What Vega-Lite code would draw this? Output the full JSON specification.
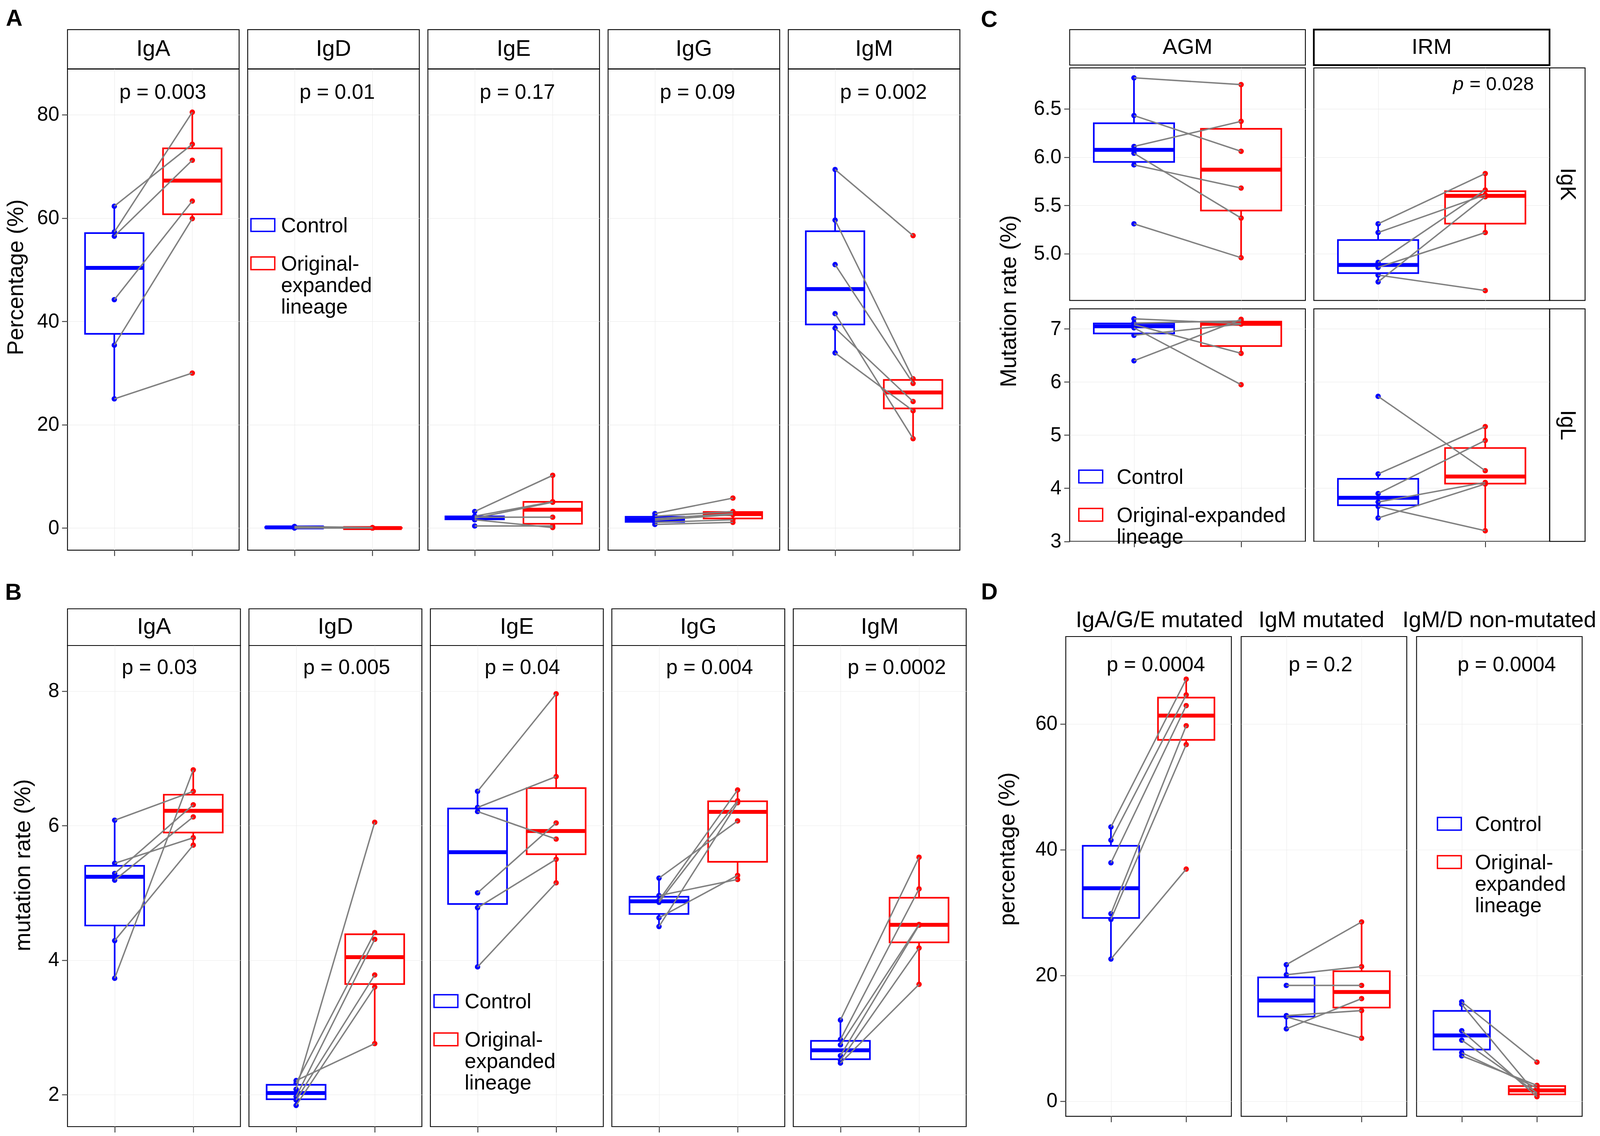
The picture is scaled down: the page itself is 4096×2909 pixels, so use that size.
{
"$schema":"https://vega.github.io/schema/vega-lite/v6.json",
"padding":{"left":10.8,"top":17.8,"right":8,"bottom":8},
"background":"white",
"datasets":{
"pts":[
{"p":"A_IgA","g":"C","id":1,"v":62.3},{"p":"A_IgA","g":"C","id":2,"v":57.3},{"p":"A_IgA","g":"C","id":3,"v":56.5},{"p":"A_IgA","g":"C","id":4,"v":44.2},{"p":"A_IgA","g":"C","id":5,"v":35.4},{"p":"A_IgA","g":"C","id":6,"v":25.0},
{"p":"A_IgA","g":"E","id":1,"v":74.3},{"p":"A_IgA","g":"E","id":2,"v":80.5},{"p":"A_IgA","g":"E","id":3,"v":71.2},{"p":"A_IgA","g":"E","id":4,"v":63.3},{"p":"A_IgA","g":"E","id":5,"v":59.9},{"p":"A_IgA","g":"E","id":6,"v":30.0},
{"p":"A_IgD","g":"C","id":1,"v":0.3},{"p":"A_IgD","g":"C","id":2,"v":0.2},{"p":"A_IgD","g":"C","id":3,"v":0.15},{"p":"A_IgD","g":"C","id":4,"v":0.1},{"p":"A_IgD","g":"C","id":5,"v":0.05},{"p":"A_IgD","g":"C","id":6,"v":0},
{"p":"A_IgD","g":"E","id":1,"v":0.1},{"p":"A_IgD","g":"E","id":2,"v":0.05},{"p":"A_IgD","g":"E","id":3,"v":0},{"p":"A_IgD","g":"E","id":4,"v":0},{"p":"A_IgD","g":"E","id":5,"v":0},{"p":"A_IgD","g":"E","id":6,"v":0},
{"p":"A_IgE","g":"C","id":1,"v":3.2},{"p":"A_IgE","g":"C","id":2,"v":2.3},{"p":"A_IgE","g":"C","id":3,"v":1.9},{"p":"A_IgE","g":"C","id":4,"v":2.1},{"p":"A_IgE","g":"C","id":5,"v":0.4},{"p":"A_IgE","g":"C","id":6,"v":1.6},
{"p":"A_IgE","g":"E","id":1,"v":10.2},{"p":"A_IgE","g":"E","id":2,"v":5.1},{"p":"A_IgE","g":"E","id":3,"v":5.0},{"p":"A_IgE","g":"E","id":4,"v":2.1},{"p":"A_IgE","g":"E","id":5,"v":0.4},{"p":"A_IgE","g":"E","id":6,"v":0.1},
{"p":"A_IgG","g":"C","id":1,"v":2.8},{"p":"A_IgG","g":"C","id":2,"v":2.3},{"p":"A_IgG","g":"C","id":3,"v":1.8},{"p":"A_IgG","g":"C","id":4,"v":1.5},{"p":"A_IgG","g":"C","id":5,"v":1.1},{"p":"A_IgG","g":"C","id":6,"v":0.7},
{"p":"A_IgG","g":"E","id":1,"v":5.8},{"p":"A_IgG","g":"E","id":2,"v":3.2},{"p":"A_IgG","g":"E","id":3,"v":2.8},{"p":"A_IgG","g":"E","id":4,"v":2.6},{"p":"A_IgG","g":"E","id":5,"v":1.6},{"p":"A_IgG","g":"E","id":6,"v":1.1},
{"p":"A_IgM","g":"C","id":1,"v":69.4},{"p":"A_IgM","g":"C","id":2,"v":59.6},{"p":"A_IgM","g":"C","id":3,"v":51.0},{"p":"A_IgM","g":"C","id":4,"v":41.5},{"p":"A_IgM","g":"C","id":5,"v":38.7},{"p":"A_IgM","g":"C","id":6,"v":33.9},
{"p":"A_IgM","g":"E","id":1,"v":56.6},{"p":"A_IgM","g":"E","id":2,"v":28.9},{"p":"A_IgM","g":"E","id":3,"v":28.0},{"p":"A_IgM","g":"E","id":4,"v":17.3},{"p":"A_IgM","g":"E","id":5,"v":24.5},{"p":"A_IgM","g":"E","id":6,"v":22.7},
{"p":"B_IgA","g":"C","id":1,"v":6.08},{"p":"B_IgA","g":"C","id":2,"v":5.44},{"p":"B_IgA","g":"C","id":3,"v":5.29},{"p":"B_IgA","g":"C","id":4,"v":5.19},{"p":"B_IgA","g":"C","id":5,"v":4.29},{"p":"B_IgA","g":"C","id":6,"v":3.73},
{"p":"B_IgA","g":"E","id":1,"v":6.51},{"p":"B_IgA","g":"E","id":2,"v":5.82},{"p":"B_IgA","g":"E","id":3,"v":6.31},{"p":"B_IgA","g":"E","id":4,"v":6.13},{"p":"B_IgA","g":"E","id":5,"v":5.71},{"p":"B_IgA","g":"E","id":6,"v":6.83},
{"p":"B_IgD","g":"C","id":1,"v":2.21},{"p":"B_IgD","g":"C","id":2,"v":2.17},{"p":"B_IgD","g":"C","id":3,"v":2.08},{"p":"B_IgD","g":"C","id":4,"v":1.97},{"p":"B_IgD","g":"C","id":5,"v":1.92},{"p":"B_IgD","g":"C","id":6,"v":1.84},
{"p":"B_IgD","g":"E","id":1,"v":2.76},{"p":"B_IgD","g":"E","id":2,"v":4.41},{"p":"B_IgD","g":"E","id":3,"v":6.05},{"p":"B_IgD","g":"E","id":4,"v":4.31},{"p":"B_IgD","g":"E","id":5,"v":3.78},{"p":"B_IgD","g":"E","id":6,"v":3.60},
{"p":"B_IgE","g":"C","id":1,"v":6.51},{"p":"B_IgE","g":"C","id":2,"v":6.27},{"p":"B_IgE","g":"C","id":3,"v":6.21},{"p":"B_IgE","g":"C","id":4,"v":5.00},{"p":"B_IgE","g":"C","id":5,"v":4.78},{"p":"B_IgE","g":"C","id":6,"v":3.90},
{"p":"B_IgE","g":"E","id":1,"v":7.96},{"p":"B_IgE","g":"E","id":2,"v":6.73},{"p":"B_IgE","g":"E","id":3,"v":5.80},{"p":"B_IgE","g":"E","id":4,"v":6.04},{"p":"B_IgE","g":"E","id":5,"v":5.50},{"p":"B_IgE","g":"E","id":6,"v":5.15},
{"p":"B_IgG","g":"C","id":1,"v":5.22},{"p":"B_IgG","g":"C","id":2,"v":4.96},{"p":"B_IgG","g":"C","id":3,"v":4.89},{"p":"B_IgG","g":"C","id":4,"v":4.86},{"p":"B_IgG","g":"C","id":5,"v":4.63},{"p":"B_IgG","g":"C","id":6,"v":4.50},
{"p":"B_IgG","g":"E","id":1,"v":6.07},{"p":"B_IgG","g":"E","id":2,"v":5.20},{"p":"B_IgG","g":"E","id":3,"v":6.53},{"p":"B_IgG","g":"E","id":4,"v":6.37},{"p":"B_IgG","g":"E","id":5,"v":5.26},{"p":"B_IgG","g":"E","id":6,"v":6.34},
{"p":"B_IgM","g":"C","id":1,"v":3.11},{"p":"B_IgM","g":"C","id":2,"v":2.82},{"p":"B_IgM","g":"C","id":3,"v":2.74},{"p":"B_IgM","g":"C","id":4,"v":2.58},{"p":"B_IgM","g":"C","id":5,"v":2.51},{"p":"B_IgM","g":"C","id":6,"v":2.47},
{"p":"B_IgM","g":"E","id":1,"v":5.53},{"p":"B_IgM","g":"E","id":2,"v":5.06},{"p":"B_IgM","g":"E","id":3,"v":4.53},{"p":"B_IgM","g":"E","id":4,"v":4.52},{"p":"B_IgM","g":"E","id":5,"v":4.18},{"p":"B_IgM","g":"E","id":6,"v":3.64},
{"p":"C_AK","g":"C","id":1,"v":6.82},{"p":"C_AK","g":"C","id":2,"v":6.43},{"p":"C_AK","g":"C","id":3,"v":6.11},{"p":"C_AK","g":"C","id":4,"v":6.04},{"p":"C_AK","g":"C","id":5,"v":5.92},{"p":"C_AK","g":"C","id":6,"v":5.31},
{"p":"C_AK","g":"E","id":1,"v":6.75},{"p":"C_AK","g":"E","id":2,"v":6.06},{"p":"C_AK","g":"E","id":3,"v":6.37},{"p":"C_AK","g":"E","id":4,"v":5.37},{"p":"C_AK","g":"E","id":5,"v":5.68},{"p":"C_AK","g":"E","id":6,"v":4.96},
{"p":"C_IK","g":"C","id":1,"v":5.31},{"p":"C_IK","g":"C","id":2,"v":5.22},{"p":"C_IK","g":"C","id":3,"v":4.91},{"p":"C_IK","g":"C","id":4,"v":4.86},{"p":"C_IK","g":"C","id":5,"v":4.71},{"p":"C_IK","g":"C","id":6,"v":4.78},
{"p":"C_IK","g":"E","id":1,"v":5.83},{"p":"C_IK","g":"E","id":2,"v":5.61},{"p":"C_IK","g":"E","id":3,"v":5.66},{"p":"C_IK","g":"E","id":4,"v":5.22},{"p":"C_IK","g":"E","id":5,"v":5.59},{"p":"C_IK","g":"E","id":6,"v":4.62},
{"p":"C_AL","g":"C","id":1,"v":7.19},{"p":"C_AL","g":"C","id":2,"v":7.11},{"p":"C_AL","g":"C","id":3,"v":7.08},{"p":"C_AL","g":"C","id":4,"v":7.02},{"p":"C_AL","g":"C","id":5,"v":6.88},{"p":"C_AL","g":"C","id":6,"v":6.40},
{"p":"C_AL","g":"E","id":1,"v":7.10},{"p":"C_AL","g":"E","id":2,"v":7.15},{"p":"C_AL","g":"E","id":3,"v":6.54},{"p":"C_AL","g":"E","id":4,"v":5.95},{"p":"C_AL","g":"E","id":5,"v":7.09},{"p":"C_AL","g":"E","id":6,"v":7.18},
{"p":"C_IL","g":"C","id":1,"v":5.73},{"p":"C_IL","g":"C","id":2,"v":4.27},{"p":"C_IL","g":"C","id":3,"v":3.90},{"p":"C_IL","g":"C","id":4,"v":3.74},{"p":"C_IL","g":"C","id":5,"v":3.66},{"p":"C_IL","g":"C","id":6,"v":3.44},
{"p":"C_IL","g":"E","id":1,"v":4.33},{"p":"C_IL","g":"E","id":2,"v":5.16},{"p":"C_IL","g":"E","id":3,"v":4.90},{"p":"C_IL","g":"E","id":4,"v":4.11},{"p":"C_IL","g":"E","id":5,"v":3.20},{"p":"C_IL","g":"E","id":6,"v":4.08},
{"p":"D_1","g":"C","id":1,"v":43.6},{"p":"D_1","g":"C","id":2,"v":41.5},{"p":"D_1","g":"C","id":3,"v":37.9},{"p":"D_1","g":"C","id":4,"v":29.8},{"p":"D_1","g":"C","id":5,"v":28.9},{"p":"D_1","g":"C","id":6,"v":22.6},
{"p":"D_1","g":"E","id":1,"v":67.1},{"p":"D_1","g":"E","id":2,"v":64.6},{"p":"D_1","g":"E","id":3,"v":62.9},{"p":"D_1","g":"E","id":4,"v":59.7},{"p":"D_1","g":"E","id":5,"v":56.7},{"p":"D_1","g":"E","id":6,"v":36.9},
{"p":"D_2","g":"C","id":1,"v":21.7},{"p":"D_2","g":"C","id":2,"v":20.1},{"p":"D_2","g":"C","id":3,"v":18.4},{"p":"D_2","g":"C","id":4,"v":13.6},{"p":"D_2","g":"C","id":5,"v":11.5},{"p":"D_2","g":"C","id":6,"v":13.4},
{"p":"D_2","g":"E","id":1,"v":28.5},{"p":"D_2","g":"E","id":2,"v":21.4},{"p":"D_2","g":"E","id":3,"v":18.4},{"p":"D_2","g":"E","id":4,"v":14.4},{"p":"D_2","g":"E","id":5,"v":16.3},{"p":"D_2","g":"E","id":6,"v":10.0},
{"p":"D_3","g":"C","id":1,"v":15.8},{"p":"D_3","g":"C","id":2,"v":15.4},{"p":"D_3","g":"C","id":3,"v":11.2},{"p":"D_3","g":"C","id":4,"v":9.7},{"p":"D_3","g":"C","id":5,"v":7.7},{"p":"D_3","g":"C","id":6,"v":7.2},
{"p":"D_3","g":"E","id":1,"v":6.2},{"p":"D_3","g":"E","id":2,"v":1.0},{"p":"D_3","g":"E","id":3,"v":0.7},{"p":"D_3","g":"E","id":4,"v":1.3},{"p":"D_3","g":"E","id":5,"v":2.1},{"p":"D_3","g":"E","id":6,"v":2.5}
],
"box":[
{"p":"A_IgA","g":"C","lo":25.0,"q1":37.6,"md":50.35,"q3":57.1,"hi":62.3},{"p":"A_IgA","g":"E","lo":59.9,"q1":60.75,"md":67.25,"q3":73.5,"hi":80.5},
{"p":"A_IgD","g":"C","lo":0,"q1":0.0625,"md":0.125,"q3":0.1875,"hi":0.3},{"p":"A_IgD","g":"E","lo":0,"q1":0,"md":0,"q3":0.0375,"hi":0.1},
{"p":"A_IgE","g":"C","lo":1.6,"q1":1.675,"md":2.0,"q3":2.25,"hi":2.3},{"p":"A_IgE","g":"E","lo":0.1,"q1":0.825,"md":3.55,"q3":5.075,"hi":10.2},
{"p":"A_IgG","g":"C","lo":0.7,"q1":1.2,"md":1.65,"q3":2.175,"hi":2.8},{"p":"A_IgG","g":"E","lo":1.1,"q1":1.85,"md":2.7,"q3":3.1,"hi":3.2},
{"p":"A_IgM","g":"C","lo":33.9,"q1":39.4,"md":46.25,"q3":57.45,"hi":69.4},{"p":"A_IgM","g":"E","lo":17.3,"q1":23.15,"md":26.25,"q3":28.68,"hi":28.9},
{"p":"B_IgA","g":"C","lo":3.73,"q1":4.515,"md":5.24,"q3":5.4025,"hi":6.08},{"p":"B_IgA","g":"E","lo":5.71,"q1":5.8975,"md":6.22,"q3":6.46,"hi":6.83},
{"p":"B_IgD","g":"C","lo":1.84,"q1":1.9325,"md":2.025,"q3":2.1475,"hi":2.21},{"p":"B_IgD","g":"E","lo":2.76,"q1":3.645,"md":4.045,"q3":4.385,"hi":4.41},
{"p":"B_IgE","g":"C","lo":3.90,"q1":4.835,"md":5.605,"q3":6.255,"hi":6.51},{"p":"B_IgE","g":"E","lo":5.15,"q1":5.575,"md":5.92,"q3":6.5575,"hi":7.96},
{"p":"B_IgG","g":"C","lo":4.50,"q1":4.6875,"md":4.875,"q3":4.9425,"hi":5.22},{"p":"B_IgG","g":"E","lo":5.20,"q1":5.4625,"md":6.205,"q3":6.3625,"hi":6.53},
{"p":"B_IgM","g":"C","lo":2.47,"q1":2.5275,"md":2.66,"q3":2.80,"hi":3.11},{"p":"B_IgM","g":"E","lo":3.64,"q1":4.265,"md":4.525,"q3":4.9275,"hi":5.53},
{"p":"C_AK","g":"C","lo":5.92,"q1":5.95,"md":6.075,"q3":6.35,"hi":6.82},{"p":"C_AK","g":"E","lo":4.96,"q1":5.4475,"md":5.87,"q3":6.2925,"hi":6.75},
{"p":"C_IK","g":"C","lo":4.71,"q1":4.80,"md":4.885,"q3":5.1425,"hi":5.31},{"p":"C_IK","g":"E","lo":5.22,"q1":5.3125,"md":5.60,"q3":5.6475,"hi":5.83},
{"p":"C_AL","g":"C","lo":6.88,"q1":6.915,"md":7.05,"q3":7.1025,"hi":7.19},{"p":"C_AL","g":"E","lo":6.54,"q1":6.6775,"md":7.095,"q3":7.1375,"hi":7.18},
{"p":"C_IL","g":"C","lo":3.44,"q1":3.68,"md":3.82,"q3":4.1775,"hi":4.27},{"p":"C_IL","g":"E","lo":3.20,"q1":4.0875,"md":4.22,"q3":4.7575,"hi":5.16},
{"p":"D_1","g":"C","lo":22.6,"q1":29.125,"md":33.85,"q3":40.6,"hi":43.6},{"p":"D_1","g":"E","lo":56.7,"q1":57.45,"md":61.3,"q3":64.175,"hi":67.1},
{"p":"D_2","g":"C","lo":11.5,"q1":13.45,"md":16.0,"q3":19.675,"hi":21.7},{"p":"D_2","g":"E","lo":10.0,"q1":14.875,"md":17.35,"q3":20.65,"hi":28.5},
{"p":"D_3","g":"C","lo":7.2,"q1":8.2,"md":10.45,"q3":14.35,"hi":15.8},{"p":"D_3","g":"E","lo":0.7,"q1":1.075,"md":1.7,"q3":2.4,"hi":2.5}
],
"lab":[
{"p":"A_IgA","k":"n","t":"p = 0.003"},{"p":"A_IgD","k":"n","t":"p = 0.01"},{"p":"A_IgE","k":"n","t":"p = 0.17"},{"p":"A_IgG","k":"n","t":"p = 0.09"},{"p":"A_IgM","k":"n","t":"p = 0.002"},
{"p":"B_IgA","k":"n","t":"p = 0.03"},{"p":"B_IgD","k":"n","t":"p = 0.005"},{"p":"B_IgE","k":"n","t":"p = 0.04"},{"p":"B_IgG","k":"n","t":"p = 0.004"},{"p":"B_IgM","k":"n","t":"p = 0.0002"},
{"p":"C_IK","k":"i","t":"p"},{"p":"C_IK","k":"n","t":"= 0.028"},
{"p":"D_1","k":"n","t":"p = 0.0004"},{"p":"D_2","k":"n","t":"p = 0.2"},{"p":"D_3","k":"n","t":"p = 0.0004"}
]
},
"spacing":61.2,"resolve":{"legend":{"stroke":"independent"}},
"vconcat":[
{"spacing":50.6,"resolve":{"legend":{"stroke":"independent"}},"hconcat":[
{"columns":5,"spacing":{"row":0,"column":21.3},"bounds":"flush","align":"each","resolve":{"legend":{"stroke":"independent"}},"concat":[
{"width":439.3,"height":100.6,"title":{"text":"A","dx":-157.8,"offset":-2.5},"view":{"stroke":"black","strokeWidth":2.2},"data":{"values":[{"t":"IgA"}]},"mark":{"type":"text","fontSize":58,"baseline":"middle"},"encoding":{"text":{"field":"t","type":"nominal"}}},
{"width":439.3,"height":100.6,"view":{"stroke":"black","strokeWidth":2.2},"data":{"values":[{"t":"IgD"}]},"mark":{"type":"text","fontSize":58,"baseline":"middle"},"encoding":{"text":{"field":"t","type":"nominal"}}},
{"width":439.3,"height":100.6,"view":{"stroke":"black","strokeWidth":2.2},"data":{"values":[{"t":"IgE"}]},"mark":{"type":"text","fontSize":58,"baseline":"middle"},"encoding":{"text":{"field":"t","type":"nominal"}}},
{"width":439.3,"height":100.6,"view":{"stroke":"black","strokeWidth":2.2},"data":{"values":[{"t":"IgG"}]},"mark":{"type":"text","fontSize":58,"baseline":"middle"},"encoding":{"text":{"field":"t","type":"nominal"}}},
{"width":439.3,"height":100.6,"view":{"stroke":"black","strokeWidth":2.2},"data":{"values":[{"t":"IgM"}]},"mark":{"type":"text","fontSize":58,"baseline":"middle"},"encoding":{"text":{"field":"t","type":"nominal"}}},
{"width":439.3,"height":1232,"layer":[
{"data":{"name":"box"},"transform":[{"filter":"datum.p=='A_IgA'"}],"layer":[
{"mark":{"type":"rule","strokeWidth":4.2},"encoding":{"x":{"field":"g","type":"nominal","scale":{"type":"point","padding":0.6,"domain":["C","E"]},"axis":{"labels":false,"title":null,"ticks":true,"grid":true}},"y":{"field":"lo","type":"quantitative","scale":{"domain":[-4.28,88.85],"nice":false,"zero":false},"axis":{"values":[0,20,40,60,80],"format":"d","title":"Percentage (%)","titleX":-102.4,"titleY":532.8}},"y2":{"field":"q1"},"color":{"field":"g","type":"nominal","scale":{"domain":["C","E"],"range":["#0000ff","#ff0000"]},"legend":null}}},
{"mark":{"type":"rule","strokeWidth":4.2},"encoding":{"x":{"field":"g","type":"nominal"},"y":{"field":"q3","type":"quantitative"},"y2":{"field":"hi"},"color":{"field":"g","type":"nominal","legend":null}}},
{"mark":{"type":"bar","width":149.8,"fill":"white","strokeWidth":4.2},"encoding":{"x":{"field":"g","type":"nominal"},"y":{"field":"q1","type":"quantitative"},"y2":{"field":"q3"},"stroke":{"field":"g","type":"nominal","scale":{"domain":["C","E"],"range":["#0000ff","#ff0000"]},"legend":null}}},
{"mark":{"type":"tick","size":149.8,"thickness":10,"opacity":1},"encoding":{"x":{"field":"g","type":"nominal"},"y":{"field":"md","type":"quantitative"},"color":{"field":"g","type":"nominal","legend":null}}}]},
{"data":{"name":"pts"},"transform":[{"filter":"datum.p=='A_IgA'"}],"layer":[
{"mark":{"type":"circle","size":190,"opacity":1},"encoding":{"x":{"field":"g","type":"nominal"},"y":{"field":"v","type":"quantitative"},"color":{"field":"g","type":"nominal","legend":null}}},
{"mark":{"type":"line","color":"#808080","strokeWidth":3.6},"encoding":{"x":{"field":"g","type":"nominal"},"y":{"field":"v","type":"quantitative"},"detail":{"field":"id","type":"nominal"}}}]},
{"data":{"name":"lab"},"transform":[{"filter":"datum.p=='A_IgA'"}],"mark":{"type":"text","align":"left","baseline":"alphabetic","fontSize":53,"dx":12.8},"encoding":{"x":{"datum":"C","type":"nominal"},"y":{"datum":83.1,"type":"quantitative"},"text":{"field":"t","type":"nominal"}}}
]},
{"width":439.3,"height":1232,"layer":[
{"data":{"name":"box"},"transform":[{"filter":"datum.p=='A_IgD'"}],"layer":[
{"mark":{"type":"rule","strokeWidth":4.2},"encoding":{"x":{"field":"g","type":"nominal","scale":{"type":"point","padding":0.6,"domain":["C","E"]},"axis":{"labels":false,"title":null,"ticks":true,"grid":true}},"y":{"field":"lo","type":"quantitative","scale":{"domain":[-4.28,88.85],"nice":false,"zero":false},"axis":{"values":[0,20,40,60,80],"labels":false,"ticks":false,"title":null}},"y2":{"field":"q1"},"color":{"field":"g","type":"nominal","scale":{"domain":["C","E"],"range":["#0000ff","#ff0000"]},"legend":null}}},
{"mark":{"type":"rule","strokeWidth":4.2},"encoding":{"x":{"field":"g","type":"nominal"},"y":{"field":"q3","type":"quantitative"},"y2":{"field":"hi"},"color":{"field":"g","type":"nominal","legend":null}}},
{"mark":{"type":"bar","width":149.8,"fill":"white","strokeWidth":4.2},"encoding":{"x":{"field":"g","type":"nominal"},"y":{"field":"q1","type":"quantitative"},"y2":{"field":"q3"},"stroke":{"field":"g","type":"nominal","scale":{"domain":["C","E"],"range":["#0000ff","#ff0000"]},"legend":{"title":null,"orient":"none","legendX":6.3,"legendY":386,"labelOffset":14,"labelExpr":"datum.label=='C'?'Control':['Original-','expanded','lineage']"}}}},
{"mark":{"type":"tick","size":149.8,"thickness":10,"opacity":1},"encoding":{"x":{"field":"g","type":"nominal"},"y":{"field":"md","type":"quantitative"},"color":{"field":"g","type":"nominal","legend":null}}}]},
{"data":{"name":"pts"},"transform":[{"filter":"datum.p=='A_IgD'"}],"layer":[
{"mark":{"type":"circle","size":190,"opacity":1},"encoding":{"x":{"field":"g","type":"nominal"},"y":{"field":"v","type":"quantitative"},"color":{"field":"g","type":"nominal","legend":null}}},
{"mark":{"type":"line","color":"#808080","strokeWidth":3.6},"encoding":{"x":{"field":"g","type":"nominal"},"y":{"field":"v","type":"quantitative"},"detail":{"field":"id","type":"nominal"}}}]},
{"data":{"name":"lab"},"transform":[{"filter":"datum.p=='A_IgD'"}],"mark":{"type":"text","align":"left","baseline":"alphabetic","fontSize":53,"dx":12.8},"encoding":{"x":{"datum":"C","type":"nominal"},"y":{"datum":83.1,"type":"quantitative"},"text":{"field":"t","type":"nominal"}}}
]},
{"width":439.3,"height":1232,"layer":[
{"data":{"name":"box"},"transform":[{"filter":"datum.p=='A_IgE'"}],"layer":[
{"mark":{"type":"rule","strokeWidth":4.2},"encoding":{"x":{"field":"g","type":"nominal","scale":{"type":"point","padding":0.6,"domain":["C","E"]},"axis":{"labels":false,"title":null,"ticks":true,"grid":true}},"y":{"field":"lo","type":"quantitative","scale":{"domain":[-4.28,88.85],"nice":false,"zero":false},"axis":{"values":[0,20,40,60,80],"labels":false,"ticks":false,"title":null}},"y2":{"field":"q1"},"color":{"field":"g","type":"nominal","scale":{"domain":["C","E"],"range":["#0000ff","#ff0000"]},"legend":null}}},
{"mark":{"type":"rule","strokeWidth":4.2},"encoding":{"x":{"field":"g","type":"nominal"},"y":{"field":"q3","type":"quantitative"},"y2":{"field":"hi"},"color":{"field":"g","type":"nominal","legend":null}}},
{"mark":{"type":"bar","width":149.8,"fill":"white","strokeWidth":4.2},"encoding":{"x":{"field":"g","type":"nominal"},"y":{"field":"q1","type":"quantitative"},"y2":{"field":"q3"},"stroke":{"field":"g","type":"nominal","scale":{"domain":["C","E"],"range":["#0000ff","#ff0000"]},"legend":null}}},
{"mark":{"type":"tick","size":149.8,"thickness":10,"opacity":1},"encoding":{"x":{"field":"g","type":"nominal"},"y":{"field":"md","type":"quantitative"},"color":{"field":"g","type":"nominal","legend":null}}}]},
{"data":{"name":"pts"},"transform":[{"filter":"datum.p=='A_IgE'"}],"layer":[
{"mark":{"type":"circle","size":190,"opacity":1},"encoding":{"x":{"field":"g","type":"nominal"},"y":{"field":"v","type":"quantitative"},"color":{"field":"g","type":"nominal","legend":null}}},
{"mark":{"type":"line","color":"#808080","strokeWidth":3.6},"encoding":{"x":{"field":"g","type":"nominal"},"y":{"field":"v","type":"quantitative"},"detail":{"field":"id","type":"nominal"}}}]},
{"data":{"name":"lab"},"transform":[{"filter":"datum.p=='A_IgE'"}],"mark":{"type":"text","align":"left","baseline":"alphabetic","fontSize":53,"dx":12.8},"encoding":{"x":{"datum":"C","type":"nominal"},"y":{"datum":83.1,"type":"quantitative"},"text":{"field":"t","type":"nominal"}}}
]},
{"width":439.3,"height":1232,"layer":[
{"data":{"name":"box"},"transform":[{"filter":"datum.p=='A_IgG'"}],"layer":[
{"mark":{"type":"rule","strokeWidth":4.2},"encoding":{"x":{"field":"g","type":"nominal","scale":{"type":"point","padding":0.6,"domain":["C","E"]},"axis":{"labels":false,"title":null,"ticks":true,"grid":true}},"y":{"field":"lo","type":"quantitative","scale":{"domain":[-4.28,88.85],"nice":false,"zero":false},"axis":{"values":[0,20,40,60,80],"labels":false,"ticks":false,"title":null}},"y2":{"field":"q1"},"color":{"field":"g","type":"nominal","scale":{"domain":["C","E"],"range":["#0000ff","#ff0000"]},"legend":null}}},
{"mark":{"type":"rule","strokeWidth":4.2},"encoding":{"x":{"field":"g","type":"nominal"},"y":{"field":"q3","type":"quantitative"},"y2":{"field":"hi"},"color":{"field":"g","type":"nominal","legend":null}}},
{"mark":{"type":"bar","width":149.8,"fill":"white","strokeWidth":4.2},"encoding":{"x":{"field":"g","type":"nominal"},"y":{"field":"q1","type":"quantitative"},"y2":{"field":"q3"},"stroke":{"field":"g","type":"nominal","scale":{"domain":["C","E"],"range":["#0000ff","#ff0000"]},"legend":null}}},
{"mark":{"type":"tick","size":149.8,"thickness":10,"opacity":1},"encoding":{"x":{"field":"g","type":"nominal"},"y":{"field":"md","type":"quantitative"},"color":{"field":"g","type":"nominal","legend":null}}}]},
{"data":{"name":"pts"},"transform":[{"filter":"datum.p=='A_IgG'"}],"layer":[
{"mark":{"type":"circle","size":190,"opacity":1},"encoding":{"x":{"field":"g","type":"nominal"},"y":{"field":"v","type":"quantitative"},"color":{"field":"g","type":"nominal","legend":null}}},
{"mark":{"type":"line","color":"#808080","strokeWidth":3.6},"encoding":{"x":{"field":"g","type":"nominal"},"y":{"field":"v","type":"quantitative"},"detail":{"field":"id","type":"nominal"}}}]},
{"data":{"name":"lab"},"transform":[{"filter":"datum.p=='A_IgG'"}],"mark":{"type":"text","align":"left","baseline":"alphabetic","fontSize":53,"dx":12.8},"encoding":{"x":{"datum":"C","type":"nominal"},"y":{"datum":83.1,"type":"quantitative"},"text":{"field":"t","type":"nominal"}}}
]},
{"width":439.3,"height":1232,"layer":[
{"data":{"name":"box"},"transform":[{"filter":"datum.p=='A_IgM'"}],"layer":[
{"mark":{"type":"rule","strokeWidth":4.2},"encoding":{"x":{"field":"g","type":"nominal","scale":{"type":"point","padding":0.6,"domain":["C","E"]},"axis":{"labels":false,"title":null,"ticks":true,"grid":true}},"y":{"field":"lo","type":"quantitative","scale":{"domain":[-4.28,88.85],"nice":false,"zero":false},"axis":{"values":[0,20,40,60,80],"labels":false,"ticks":false,"title":null}},"y2":{"field":"q1"},"color":{"field":"g","type":"nominal","scale":{"domain":["C","E"],"range":["#0000ff","#ff0000"]},"legend":null}}},
{"mark":{"type":"rule","strokeWidth":4.2},"encoding":{"x":{"field":"g","type":"nominal"},"y":{"field":"q3","type":"quantitative"},"y2":{"field":"hi"},"color":{"field":"g","type":"nominal","legend":null}}},
{"mark":{"type":"bar","width":149.8,"fill":"white","strokeWidth":4.2},"encoding":{"x":{"field":"g","type":"nominal"},"y":{"field":"q1","type":"quantitative"},"y2":{"field":"q3"},"stroke":{"field":"g","type":"nominal","scale":{"domain":["C","E"],"range":["#0000ff","#ff0000"]},"legend":null}}},
{"mark":{"type":"tick","size":149.8,"thickness":10,"opacity":1},"encoding":{"x":{"field":"g","type":"nominal"},"y":{"field":"md","type":"quantitative"},"color":{"field":"g","type":"nominal","legend":null}}}]},
{"data":{"name":"pts"},"transform":[{"filter":"datum.p=='A_IgM'"}],"layer":[
{"mark":{"type":"circle","size":190,"opacity":1},"encoding":{"x":{"field":"g","type":"nominal"},"y":{"field":"v","type":"quantitative"},"color":{"field":"g","type":"nominal","legend":null}}},
{"mark":{"type":"line","color":"#808080","strokeWidth":3.6},"encoding":{"x":{"field":"g","type":"nominal"},"y":{"field":"v","type":"quantitative"},"detail":{"field":"id","type":"nominal"}}}]},
{"data":{"name":"lab"},"transform":[{"filter":"datum.p=='A_IgM'"}],"mark":{"type":"text","align":"left","baseline":"alphabetic","fontSize":53,"dx":12.8},"encoding":{"x":{"datum":"C","type":"nominal"},"y":{"datum":83.1,"type":"quantitative"},"text":{"field":"t","type":"nominal"}}}
]}
]},
{"columns":4,"spacing":{"row":0,"column":0},"bounds":"flush","align":"each","resolve":{"legend":{"stroke":"independent"}},"concat":[
{"width":603.4,"height":90.9,"title":{"text":"C","dx":-227.5,"offset":-5.6},"view":{"stroke":"black","strokeWidth":2.2},"data":{"values":[{"t":"AGM"}]},"mark":{"type":"text","fontSize":56,"baseline":"middle"},"encoding":{"text":{"field":"t","type":"nominal"}}},
{"width":20.6,"height":1,"view":{"stroke":null},"data":{"values":[]},"mark":"point"},
{"width":603.4,"height":90.9,"view":{"stroke":"black","strokeWidth":4.4},"data":{"values":[{"t":"IRM"}]},"mark":{"type":"text","fontSize":56,"baseline":"middle"},"encoding":{"text":{"field":"t","type":"nominal"}}},
{"width":1,"height":1,"view":{"stroke":null},"data":{"values":[]},"mark":"point"},
{"width":1,"height":6.8,"view":{"stroke":null},"data":{"values":[]},"mark":"point"},
{"width":1,"height":6.8,"view":{"stroke":null},"data":{"values":[]},"mark":"point"},
{"width":1,"height":6.8,"view":{"stroke":null},"data":{"values":[]},"mark":"point"},
{"width":1,"height":6.8,"view":{"stroke":null},"data":{"values":[]},"mark":"point"},
{"width":603.4,"height":595.5,"layer":[
{"data":{"name":"box"},"transform":[{"filter":"datum.p=='C_AK'"}],"layer":[
{"mark":{"type":"rule","strokeWidth":4.2},"encoding":{"x":{"field":"g","type":"nominal","scale":{"type":"point","padding":0.6,"domain":["C","E"]},"axis":{"labels":false,"title":null,"ticks":false,"grid":true}},"y":{"field":"lo","type":"quantitative","scale":{"domain":[4.518,6.923],"nice":false,"zero":false},"axis":{"values":[5,5.5,6,6.5],"format":".1f","title":"Mutation rate (%)","titleX":-125.6,"titleY":597}},"y2":{"field":"q1"},"color":{"field":"g","type":"nominal","scale":{"domain":["C","E"],"range":["#0000ff","#ff0000"]},"legend":null}}},
{"mark":{"type":"rule","strokeWidth":4.2},"encoding":{"x":{"field":"g","type":"nominal"},"y":{"field":"q3","type":"quantitative"},"y2":{"field":"hi"},"color":{"field":"g","type":"nominal","legend":null}}},
{"mark":{"type":"bar","width":205.7,"fill":"white","strokeWidth":4.2},"encoding":{"x":{"field":"g","type":"nominal"},"y":{"field":"q1","type":"quantitative"},"y2":{"field":"q3"},"stroke":{"field":"g","type":"nominal","scale":{"domain":["C","E"],"range":["#0000ff","#ff0000"]},"legend":null}}},
{"mark":{"type":"tick","size":205.7,"thickness":10,"opacity":1},"encoding":{"x":{"field":"g","type":"nominal"},"y":{"field":"md","type":"quantitative"},"color":{"field":"g","type":"nominal","legend":null}}}]},
{"data":{"name":"pts"},"transform":[{"filter":"datum.p=='C_AK'"}],"layer":[
{"mark":{"type":"circle","size":190,"opacity":1},"encoding":{"x":{"field":"g","type":"nominal"},"y":{"field":"v","type":"quantitative"},"color":{"field":"g","type":"nominal","legend":null}}},
{"mark":{"type":"line","color":"#808080","strokeWidth":3.6},"encoding":{"x":{"field":"g","type":"nominal"},"y":{"field":"v","type":"quantitative"},"detail":{"field":"id","type":"nominal"}}}]}
]},
{"width":20.6,"height":1,"view":{"stroke":null},"data":{"values":[]},"mark":"point"},
{"width":603.4,"height":595.5,"layer":[
{"data":{"name":"box"},"transform":[{"filter":"datum.p=='C_IK'"}],"layer":[
{"mark":{"type":"rule","strokeWidth":4.2},"encoding":{"x":{"field":"g","type":"nominal","scale":{"type":"point","padding":0.6,"domain":["C","E"]},"axis":{"labels":false,"title":null,"ticks":false,"grid":true}},"y":{"field":"lo","type":"quantitative","scale":{"domain":[4.518,6.923],"nice":false,"zero":false},"axis":{"values":[5,5.5,6,6.5],"labels":false,"ticks":false,"title":null}},"y2":{"field":"q1"},"color":{"field":"g","type":"nominal","scale":{"domain":["C","E"],"range":["#0000ff","#ff0000"]},"legend":null}}},
{"mark":{"type":"rule","strokeWidth":4.2},"encoding":{"x":{"field":"g","type":"nominal"},"y":{"field":"q3","type":"quantitative"},"y2":{"field":"hi"},"color":{"field":"g","type":"nominal","legend":null}}},
{"mark":{"type":"bar","width":205.7,"fill":"white","strokeWidth":4.2},"encoding":{"x":{"field":"g","type":"nominal"},"y":{"field":"q1","type":"quantitative"},"y2":{"field":"q3"},"stroke":{"field":"g","type":"nominal","scale":{"domain":["C","E"],"range":["#0000ff","#ff0000"]},"legend":null}}},
{"mark":{"type":"tick","size":205.7,"thickness":10,"opacity":1},"encoding":{"x":{"field":"g","type":"nominal"},"y":{"field":"md","type":"quantitative"},"color":{"field":"g","type":"nominal","legend":null}}}]},
{"data":{"name":"pts"},"transform":[{"filter":"datum.p=='C_IK'"}],"layer":[
{"mark":{"type":"circle","size":190,"opacity":1},"encoding":{"x":{"field":"g","type":"nominal"},"y":{"field":"v","type":"quantitative"},"color":{"field":"g","type":"nominal","legend":null}}},
{"mark":{"type":"line","color":"#808080","strokeWidth":3.6},"encoding":{"x":{"field":"g","type":"nominal"},"y":{"field":"v","type":"quantitative"},"detail":{"field":"id","type":"nominal"}}}]},
{"data":{"name":"lab"},"transform":[{"filter":"datum.p=='C_IK' && datum.k=='i'"}],"mark":{"type":"text","align":"right","baseline":"alphabetic","fontSize":49,"fontStyle":"italic","dx":-55.3},"encoding":{"x":{"datum":"E","type":"nominal"},"y":{"datum":6.694,"type":"quantitative"},"text":{"field":"t","type":"nominal"}}},
{"data":{"name":"lab"},"transform":[{"filter":"datum.p=='C_IK' && datum.k=='n'"}],"mark":{"type":"text","align":"right","baseline":"alphabetic","fontSize":49,"dx":124.6},"encoding":{"x":{"datum":"E","type":"nominal"},"y":{"datum":6.694,"type":"quantitative"},"text":{"field":"t","type":"nominal"}}}
]},
{"width":90.4,"height":595.5,"view":{"stroke":"black","strokeWidth":2.2},"data":{"values":[{"t":"IgK"}]},"mark":{"type":"text","fontSize":56,"baseline":"middle","angle":90},"encoding":{"text":{"field":"t","type":"nominal"}}},
{"width":1,"height":20.6,"view":{"stroke":null},"data":{"values":[]},"mark":"point"},
{"width":1,"height":20.6,"view":{"stroke":null},"data":{"values":[]},"mark":"point"},
{"width":1,"height":20.6,"view":{"stroke":null},"data":{"values":[]},"mark":"point"},
{"width":1,"height":20.6,"view":{"stroke":null},"data":{"values":[]},"mark":"point"},
{"width":603.4,"height":595.5,"layer":[
{"data":{"name":"box"},"transform":[{"filter":"datum.p=='C_AL'"}],"layer":[
{"mark":{"type":"rule","strokeWidth":4.2},"encoding":{"x":{"field":"g","type":"nominal","scale":{"type":"point","padding":0.6,"domain":["C","E"]},"axis":{"labels":false,"title":null,"ticks":true,"grid":true}},"y":{"field":"lo","type":"quantitative","scale":{"domain":[3.0,7.378],"nice":false,"zero":false},"axis":{"values":[3,4,5,6,7],"format":"d","title":null}},"y2":{"field":"q1"},"color":{"field":"g","type":"nominal","scale":{"domain":["C","E"],"range":["#0000ff","#ff0000"]},"legend":null}}},
{"mark":{"type":"rule","strokeWidth":4.2},"encoding":{"x":{"field":"g","type":"nominal"},"y":{"field":"q3","type":"quantitative"},"y2":{"field":"hi"},"color":{"field":"g","type":"nominal","legend":null}}},
{"mark":{"type":"bar","width":205.7,"fill":"white","strokeWidth":4.2},"encoding":{"x":{"field":"g","type":"nominal"},"y":{"field":"q1","type":"quantitative"},"y2":{"field":"q3"},"stroke":{"field":"g","type":"nominal","scale":{"domain":["C","E"],"range":["#0000ff","#ff0000"]},"legend":{"title":null,"orient":"none","legendX":21.4,"legendY":416,"labelOffset":34,"labelExpr":"datum.label=='C'?'Control':['Original-expanded','lineage']"}}}},
{"mark":{"type":"tick","size":205.7,"thickness":10,"opacity":1},"encoding":{"x":{"field":"g","type":"nominal"},"y":{"field":"md","type":"quantitative"},"color":{"field":"g","type":"nominal","legend":null}}}]},
{"data":{"name":"pts"},"transform":[{"filter":"datum.p=='C_AL'"}],"layer":[
{"mark":{"type":"circle","size":190,"opacity":1},"encoding":{"x":{"field":"g","type":"nominal"},"y":{"field":"v","type":"quantitative"},"color":{"field":"g","type":"nominal","legend":null}}},
{"mark":{"type":"line","color":"#808080","strokeWidth":3.6},"encoding":{"x":{"field":"g","type":"nominal"},"y":{"field":"v","type":"quantitative"},"detail":{"field":"id","type":"nominal"}}}]}
]},
{"width":20.6,"height":1,"view":{"stroke":null},"data":{"values":[]},"mark":"point"},
{"width":603.4,"height":595.5,"layer":[
{"data":{"name":"box"},"transform":[{"filter":"datum.p=='C_IL'"}],"layer":[
{"mark":{"type":"rule","strokeWidth":4.2},"encoding":{"x":{"field":"g","type":"nominal","scale":{"type":"point","padding":0.6,"domain":["C","E"]},"axis":{"labels":false,"title":null,"ticks":true,"grid":true}},"y":{"field":"lo","type":"quantitative","scale":{"domain":[3.0,7.378],"nice":false,"zero":false},"axis":{"values":[3,4,5,6,7],"labels":false,"ticks":false,"title":null}},"y2":{"field":"q1"},"color":{"field":"g","type":"nominal","scale":{"domain":["C","E"],"range":["#0000ff","#ff0000"]},"legend":null}}},
{"mark":{"type":"rule","strokeWidth":4.2},"encoding":{"x":{"field":"g","type":"nominal"},"y":{"field":"q3","type":"quantitative"},"y2":{"field":"hi"},"color":{"field":"g","type":"nominal","legend":null}}},
{"mark":{"type":"bar","width":205.7,"fill":"white","strokeWidth":4.2},"encoding":{"x":{"field":"g","type":"nominal"},"y":{"field":"q1","type":"quantitative"},"y2":{"field":"q3"},"stroke":{"field":"g","type":"nominal","scale":{"domain":["C","E"],"range":["#0000ff","#ff0000"]},"legend":null}}},
{"mark":{"type":"tick","size":205.7,"thickness":10,"opacity":1},"encoding":{"x":{"field":"g","type":"nominal"},"y":{"field":"md","type":"quantitative"},"color":{"field":"g","type":"nominal","legend":null}}}]},
{"data":{"name":"pts"},"transform":[{"filter":"datum.p=='C_IL'"}],"layer":[
{"mark":{"type":"circle","size":190,"opacity":1},"encoding":{"x":{"field":"g","type":"nominal"},"y":{"field":"v","type":"quantitative"},"color":{"field":"g","type":"nominal","legend":null}}},
{"mark":{"type":"line","color":"#808080","strokeWidth":3.6},"encoding":{"x":{"field":"g","type":"nominal"},"y":{"field":"v","type":"quantitative"},"detail":{"field":"id","type":"nominal"}}}]}
]},
{"width":90.4,"height":595.5,"view":{"stroke":"black","strokeWidth":2.2},"data":{"values":[{"t":"IgL"}]},"mark":{"type":"text","fontSize":56,"baseline":"middle","angle":90},"encoding":{"text":{"field":"t","type":"nominal"}}}
]}
]},
{"spacing":36.6,"resolve":{"legend":{"stroke":"independent"}},"hconcat":[
{"columns":5,"spacing":{"row":0,"column":21.5},"bounds":"flush","align":"each","resolve":{"legend":{"stroke":"independent"}},"concat":[
{"width":442.7,"height":94,"title":{"text":"B","dx":-159.9,"offset":11.1},"view":{"stroke":"black","strokeWidth":2.2},"data":{"values":[{"t":"IgA"}]},"mark":{"type":"text","fontSize":58,"baseline":"middle"},"encoding":{"text":{"field":"t","type":"nominal"}}},
{"width":442.7,"height":94,"view":{"stroke":"black","strokeWidth":2.2},"data":{"values":[{"t":"IgD"}]},"mark":{"type":"text","fontSize":58,"baseline":"middle"},"encoding":{"text":{"field":"t","type":"nominal"}}},
{"width":442.7,"height":94,"view":{"stroke":"black","strokeWidth":2.2},"data":{"values":[{"t":"IgE"}]},"mark":{"type":"text","fontSize":58,"baseline":"middle"},"encoding":{"text":{"field":"t","type":"nominal"}}},
{"width":442.7,"height":94,"view":{"stroke":"black","strokeWidth":2.2},"data":{"values":[{"t":"IgG"}]},"mark":{"type":"text","fontSize":58,"baseline":"middle"},"encoding":{"text":{"field":"t","type":"nominal"}}},
{"width":442.7,"height":94,"view":{"stroke":"black","strokeWidth":2.2},"data":{"values":[{"t":"IgM"}]},"mark":{"type":"text","fontSize":58,"baseline":"middle"},"encoding":{"text":{"field":"t","type":"nominal"}}},
{"width":442.7,"height":1232,"layer":[
{"data":{"name":"box"},"transform":[{"filter":"datum.p=='B_IgA'"}],"layer":[
{"mark":{"type":"rule","strokeWidth":4.2},"encoding":{"x":{"field":"g","type":"nominal","scale":{"type":"point","padding":0.6,"domain":["C","E"]},"axis":{"labels":false,"title":null,"ticks":true,"grid":true}},"y":{"field":"lo","type":"quantitative","scale":{"domain":[1.525,8.678],"nice":false,"zero":false},"axis":{"values":[2,4,6,8],"format":"d","title":"mutation rate (%)","titleX":-84.1,"titleY":562.1}},"y2":{"field":"q1"},"color":{"field":"g","type":"nominal","scale":{"domain":["C","E"],"range":["#0000ff","#ff0000"]},"legend":null}}},
{"mark":{"type":"rule","strokeWidth":4.2},"encoding":{"x":{"field":"g","type":"nominal"},"y":{"field":"q3","type":"quantitative"},"y2":{"field":"hi"},"color":{"field":"g","type":"nominal","legend":null}}},
{"mark":{"type":"bar","width":150.9,"fill":"white","strokeWidth":4.2},"encoding":{"x":{"field":"g","type":"nominal"},"y":{"field":"q1","type":"quantitative"},"y2":{"field":"q3"},"stroke":{"field":"g","type":"nominal","scale":{"domain":["C","E"],"range":["#0000ff","#ff0000"]},"legend":null}}},
{"mark":{"type":"tick","size":150.9,"thickness":10,"opacity":1},"encoding":{"x":{"field":"g","type":"nominal"},"y":{"field":"md","type":"quantitative"},"color":{"field":"g","type":"nominal","legend":null}}}]},
{"data":{"name":"pts"},"transform":[{"filter":"datum.p=='B_IgA'"}],"layer":[
{"mark":{"type":"circle","size":190,"opacity":1},"encoding":{"x":{"field":"g","type":"nominal"},"y":{"field":"v","type":"quantitative"},"color":{"field":"g","type":"nominal","legend":null}}},
{"mark":{"type":"line","color":"#808080","strokeWidth":3.6},"encoding":{"x":{"field":"g","type":"nominal"},"y":{"field":"v","type":"quantitative"},"detail":{"field":"id","type":"nominal"}}}]},
{"data":{"name":"lab"},"transform":[{"filter":"datum.p=='B_IgA'"}],"mark":{"type":"text","align":"left","baseline":"alphabetic","fontSize":53,"dx":18.3},"encoding":{"x":{"datum":"C","type":"nominal"},"y":{"datum":8.256,"type":"quantitative"},"text":{"field":"t","type":"nominal"}}}
]},
{"width":442.7,"height":1232,"layer":[
{"data":{"name":"box"},"transform":[{"filter":"datum.p=='B_IgD'"}],"layer":[
{"mark":{"type":"rule","strokeWidth":4.2},"encoding":{"x":{"field":"g","type":"nominal","scale":{"type":"point","padding":0.6,"domain":["C","E"]},"axis":{"labels":false,"title":null,"ticks":true,"grid":true}},"y":{"field":"lo","type":"quantitative","scale":{"domain":[1.525,8.678],"nice":false,"zero":false},"axis":{"values":[2,4,6,8],"labels":false,"ticks":false,"title":null}},"y2":{"field":"q1"},"color":{"field":"g","type":"nominal","scale":{"domain":["C","E"],"range":["#0000ff","#ff0000"]},"legend":null}}},
{"mark":{"type":"rule","strokeWidth":4.2},"encoding":{"x":{"field":"g","type":"nominal"},"y":{"field":"q3","type":"quantitative"},"y2":{"field":"hi"},"color":{"field":"g","type":"nominal","legend":null}}},
{"mark":{"type":"bar","width":150.9,"fill":"white","strokeWidth":4.2},"encoding":{"x":{"field":"g","type":"nominal"},"y":{"field":"q1","type":"quantitative"},"y2":{"field":"q3"},"stroke":{"field":"g","type":"nominal","scale":{"domain":["C","E"],"range":["#0000ff","#ff0000"]},"legend":null}}},
{"mark":{"type":"tick","size":150.9,"thickness":10,"opacity":1},"encoding":{"x":{"field":"g","type":"nominal"},"y":{"field":"md","type":"quantitative"},"color":{"field":"g","type":"nominal","legend":null}}}]},
{"data":{"name":"pts"},"transform":[{"filter":"datum.p=='B_IgD'"}],"layer":[
{"mark":{"type":"circle","size":190,"opacity":1},"encoding":{"x":{"field":"g","type":"nominal"},"y":{"field":"v","type":"quantitative"},"color":{"field":"g","type":"nominal","legend":null}}},
{"mark":{"type":"line","color":"#808080","strokeWidth":3.6},"encoding":{"x":{"field":"g","type":"nominal"},"y":{"field":"v","type":"quantitative"},"detail":{"field":"id","type":"nominal"}}}]},
{"data":{"name":"lab"},"transform":[{"filter":"datum.p=='B_IgD'"}],"mark":{"type":"text","align":"left","baseline":"alphabetic","fontSize":53,"dx":18.3},"encoding":{"x":{"datum":"C","type":"nominal"},"y":{"datum":8.256,"type":"quantitative"},"text":{"field":"t","type":"nominal"}}}
]},
{"width":442.7,"height":1232,"layer":[
{"data":{"name":"box"},"transform":[{"filter":"datum.p=='B_IgE'"}],"layer":[
{"mark":{"type":"rule","strokeWidth":4.2},"encoding":{"x":{"field":"g","type":"nominal","scale":{"type":"point","padding":0.6,"domain":["C","E"]},"axis":{"labels":false,"title":null,"ticks":true,"grid":true}},"y":{"field":"lo","type":"quantitative","scale":{"domain":[1.525,8.678],"nice":false,"zero":false},"axis":{"values":[2,4,6,8],"labels":false,"ticks":false,"title":null}},"y2":{"field":"q1"},"color":{"field":"g","type":"nominal","scale":{"domain":["C","E"],"range":["#0000ff","#ff0000"]},"legend":null}}},
{"mark":{"type":"rule","strokeWidth":4.2},"encoding":{"x":{"field":"g","type":"nominal"},"y":{"field":"q3","type":"quantitative"},"y2":{"field":"hi"},"color":{"field":"g","type":"nominal","legend":null}}},
{"mark":{"type":"bar","width":150.9,"fill":"white","strokeWidth":4.2},"encoding":{"x":{"field":"g","type":"nominal"},"y":{"field":"q1","type":"quantitative"},"y2":{"field":"q3"},"stroke":{"field":"g","type":"nominal","scale":{"domain":["C","E"],"range":["#0000ff","#ff0000"]},"legend":{"title":null,"orient":"none","legendX":7.3,"legendY":897,"labelOffset":15.4,"labelExpr":"datum.label=='C'?'Control':['Original-','expanded','lineage']"}}}},
{"mark":{"type":"tick","size":150.9,"thickness":10,"opacity":1},"encoding":{"x":{"field":"g","type":"nominal"},"y":{"field":"md","type":"quantitative"},"color":{"field":"g","type":"nominal","legend":null}}}]},
{"data":{"name":"pts"},"transform":[{"filter":"datum.p=='B_IgE'"}],"layer":[
{"mark":{"type":"circle","size":190,"opacity":1},"encoding":{"x":{"field":"g","type":"nominal"},"y":{"field":"v","type":"quantitative"},"color":{"field":"g","type":"nominal","legend":null}}},
{"mark":{"type":"line","color":"#808080","strokeWidth":3.6},"encoding":{"x":{"field":"g","type":"nominal"},"y":{"field":"v","type":"quantitative"},"detail":{"field":"id","type":"nominal"}}}]},
{"data":{"name":"lab"},"transform":[{"filter":"datum.p=='B_IgE'"}],"mark":{"type":"text","align":"left","baseline":"alphabetic","fontSize":53,"dx":18.3},"encoding":{"x":{"datum":"C","type":"nominal"},"y":{"datum":8.256,"type":"quantitative"},"text":{"field":"t","type":"nominal"}}}
]},
{"width":442.7,"height":1232,"layer":[
{"data":{"name":"box"},"transform":[{"filter":"datum.p=='B_IgG'"}],"layer":[
{"mark":{"type":"rule","strokeWidth":4.2},"encoding":{"x":{"field":"g","type":"nominal","scale":{"type":"point","padding":0.6,"domain":["C","E"]},"axis":{"labels":false,"title":null,"ticks":true,"grid":true}},"y":{"field":"lo","type":"quantitative","scale":{"domain":[1.525,8.678],"nice":false,"zero":false},"axis":{"values":[2,4,6,8],"labels":false,"ticks":false,"title":null}},"y2":{"field":"q1"},"color":{"field":"g","type":"nominal","scale":{"domain":["C","E"],"range":["#0000ff","#ff0000"]},"legend":null}}},
{"mark":{"type":"rule","strokeWidth":4.2},"encoding":{"x":{"field":"g","type":"nominal"},"y":{"field":"q3","type":"quantitative"},"y2":{"field":"hi"},"color":{"field":"g","type":"nominal","legend":null}}},
{"mark":{"type":"bar","width":150.9,"fill":"white","strokeWidth":4.2},"encoding":{"x":{"field":"g","type":"nominal"},"y":{"field":"q1","type":"quantitative"},"y2":{"field":"q3"},"stroke":{"field":"g","type":"nominal","scale":{"domain":["C","E"],"range":["#0000ff","#ff0000"]},"legend":null}}},
{"mark":{"type":"tick","size":150.9,"thickness":10,"opacity":1},"encoding":{"x":{"field":"g","type":"nominal"},"y":{"field":"md","type":"quantitative"},"color":{"field":"g","type":"nominal","legend":null}}}]},
{"data":{"name":"pts"},"transform":[{"filter":"datum.p=='B_IgG'"}],"layer":[
{"mark":{"type":"circle","size":190,"opacity":1},"encoding":{"x":{"field":"g","type":"nominal"},"y":{"field":"v","type":"quantitative"},"color":{"field":"g","type":"nominal","legend":null}}},
{"mark":{"type":"line","color":"#808080","strokeWidth":3.6},"encoding":{"x":{"field":"g","type":"nominal"},"y":{"field":"v","type":"quantitative"},"detail":{"field":"id","type":"nominal"}}}]},
{"data":{"name":"lab"},"transform":[{"filter":"datum.p=='B_IgG'"}],"mark":{"type":"text","align":"left","baseline":"alphabetic","fontSize":53,"dx":18.3},"encoding":{"x":{"datum":"C","type":"nominal"},"y":{"datum":8.256,"type":"quantitative"},"text":{"field":"t","type":"nominal"}}}
]},
{"width":442.7,"height":1232,"layer":[
{"data":{"name":"box"},"transform":[{"filter":"datum.p=='B_IgM'"}],"layer":[
{"mark":{"type":"rule","strokeWidth":4.2},"encoding":{"x":{"field":"g","type":"nominal","scale":{"type":"point","padding":0.6,"domain":["C","E"]},"axis":{"labels":false,"title":null,"ticks":true,"grid":true}},"y":{"field":"lo","type":"quantitative","scale":{"domain":[1.525,8.678],"nice":false,"zero":false},"axis":{"values":[2,4,6,8],"labels":false,"ticks":false,"title":null}},"y2":{"field":"q1"},"color":{"field":"g","type":"nominal","scale":{"domain":["C","E"],"range":["#0000ff","#ff0000"]},"legend":null}}},
{"mark":{"type":"rule","strokeWidth":4.2},"encoding":{"x":{"field":"g","type":"nominal"},"y":{"field":"q3","type":"quantitative"},"y2":{"field":"hi"},"color":{"field":"g","type":"nominal","legend":null}}},
{"mark":{"type":"bar","width":150.9,"fill":"white","strokeWidth":4.2},"encoding":{"x":{"field":"g","type":"nominal"},"y":{"field":"q1","type":"quantitative"},"y2":{"field":"q3"},"stroke":{"field":"g","type":"nominal","scale":{"domain":["C","E"],"range":["#0000ff","#ff0000"]},"legend":null}}},
{"mark":{"type":"tick","size":150.9,"thickness":10,"opacity":1},"encoding":{"x":{"field":"g","type":"nominal"},"y":{"field":"md","type":"quantitative"},"color":{"field":"g","type":"nominal","legend":null}}}]},
{"data":{"name":"pts"},"transform":[{"filter":"datum.p=='B_IgM'"}],"layer":[
{"mark":{"type":"circle","size":190,"opacity":1},"encoding":{"x":{"field":"g","type":"nominal"},"y":{"field":"v","type":"quantitative"},"color":{"field":"g","type":"nominal","legend":null}}},
{"mark":{"type":"line","color":"#808080","strokeWidth":3.6},"encoding":{"x":{"field":"g","type":"nominal"},"y":{"field":"v","type":"quantitative"},"detail":{"field":"id","type":"nominal"}}}]},
{"data":{"name":"lab"},"transform":[{"filter":"datum.p=='B_IgM'"}],"mark":{"type":"text","align":"left","baseline":"alphabetic","fontSize":53,"dx":18.3},"encoding":{"x":{"datum":"C","type":"nominal"},"y":{"datum":8.256,"type":"quantitative"},"text":{"field":"t","type":"nominal"}}}
]}
]},
{"columns":5,"spacing":{"row":0,"column":0},"bounds":"flush","align":"each","resolve":{"legend":{"stroke":"independent"}},"concat":[
{"width":423.9,"height":70.2,"title":{"text":"D","dx":-216.8,"offset":11.9},"view":{"stroke":null},"data":{"values":[{"t":"IgA/G/E mutated"}]},"mark":{"type":"text","fontSize":58,"baseline":"alphabetic","dy":11.7,"dx":27.7},"encoding":{"text":{"field":"t","type":"nominal"}}},
{"width":24.6,"height":1,"view":{"stroke":null},"data":{"values":[]},"mark":"point"},
{"width":423.9,"height":70.2,"view":{"stroke":null},"data":{"values":[{"t":"IgM mutated"}]},"mark":{"type":"text","fontSize":58,"baseline":"alphabetic","dy":11.7,"dx":-6.5},"encoding":{"text":{"field":"t","type":"nominal"}}},
{"width":24.6,"height":1,"view":{"stroke":null},"data":{"values":[]},"mark":"point"},
{"width":423.9,"height":70.2,"view":{"stroke":null},"data":{"values":[{"t":"IgM/D non-mutated"}]},"mark":{"type":"text","fontSize":58,"baseline":"alphabetic","dy":11.7},"encoding":{"text":{"field":"t","type":"nominal"}}},
{"width":423.9,"height":1228.7,"layer":[
{"data":{"name":"box"},"transform":[{"filter":"datum.p=='D_1'"}],"layer":[
{"mark":{"type":"rule","strokeWidth":4.2},"encoding":{"x":{"field":"g","type":"nominal","scale":{"type":"point","padding":0.6,"domain":["C","E"]},"axis":{"labels":false,"title":null,"ticks":true,"grid":true}},"y":{"field":"lo","type":"quantitative","scale":{"domain":[-2.42,73.88],"nice":false,"zero":false},"axis":{"values":[0,20,40,60],"format":"d","title":"percentage (%)","titleX":-119.4,"titleY":543.6}},"y2":{"field":"q1"},"color":{"field":"g","type":"nominal","scale":{"domain":["C","E"],"range":["#0000ff","#ff0000"]},"legend":null}}},
{"mark":{"type":"rule","strokeWidth":4.2},"encoding":{"x":{"field":"g","type":"nominal"},"y":{"field":"q3","type":"quantitative"},"y2":{"field":"hi"},"color":{"field":"g","type":"nominal","legend":null}}},
{"mark":{"type":"bar","width":144.5,"fill":"white","strokeWidth":4.2},"encoding":{"x":{"field":"g","type":"nominal"},"y":{"field":"q1","type":"quantitative"},"y2":{"field":"q3"},"stroke":{"field":"g","type":"nominal","scale":{"domain":["C","E"],"range":["#0000ff","#ff0000"]},"legend":null}}},
{"mark":{"type":"tick","size":144.5,"thickness":10,"opacity":1},"encoding":{"x":{"field":"g","type":"nominal"},"y":{"field":"md","type":"quantitative"},"color":{"field":"g","type":"nominal","legend":null}}}]},
{"data":{"name":"pts"},"transform":[{"filter":"datum.p=='D_1'"}],"layer":[
{"mark":{"type":"circle","size":190,"opacity":1},"encoding":{"x":{"field":"g","type":"nominal"},"y":{"field":"v","type":"quantitative"},"color":{"field":"g","type":"nominal","legend":null}}},
{"mark":{"type":"line","color":"#808080","strokeWidth":3.6},"encoding":{"x":{"field":"g","type":"nominal"},"y":{"field":"v","type":"quantitative"},"detail":{"field":"id","type":"nominal"}}}]},
{"data":{"name":"lab"},"transform":[{"filter":"datum.p=='D_1'"}],"mark":{"type":"text","align":"left","baseline":"alphabetic","fontSize":53,"dx":-11},"encoding":{"x":{"datum":"C","type":"nominal"},"y":{"datum":68.37,"type":"quantitative"},"text":{"field":"t","type":"nominal"}}}
]},
{"width":24.6,"height":1,"view":{"stroke":null},"data":{"values":[]},"mark":"point"},
{"width":423.9,"height":1228.7,"layer":[
{"data":{"name":"box"},"transform":[{"filter":"datum.p=='D_2'"}],"layer":[
{"mark":{"type":"rule","strokeWidth":4.2},"encoding":{"x":{"field":"g","type":"nominal","scale":{"type":"point","padding":0.6,"domain":["C","E"]},"axis":{"labels":false,"title":null,"ticks":true,"grid":true}},"y":{"field":"lo","type":"quantitative","scale":{"domain":[-2.42,73.88],"nice":false,"zero":false},"axis":{"values":[0,20,40,60],"labels":false,"ticks":false,"title":null}},"y2":{"field":"q1"},"color":{"field":"g","type":"nominal","scale":{"domain":["C","E"],"range":["#0000ff","#ff0000"]},"legend":null}}},
{"mark":{"type":"rule","strokeWidth":4.2},"encoding":{"x":{"field":"g","type":"nominal"},"y":{"field":"q3","type":"quantitative"},"y2":{"field":"hi"},"color":{"field":"g","type":"nominal","legend":null}}},
{"mark":{"type":"bar","width":144.5,"fill":"white","strokeWidth":4.2},"encoding":{"x":{"field":"g","type":"nominal"},"y":{"field":"q1","type":"quantitative"},"y2":{"field":"q3"},"stroke":{"field":"g","type":"nominal","scale":{"domain":["C","E"],"range":["#0000ff","#ff0000"]},"legend":null}}},
{"mark":{"type":"tick","size":144.5,"thickness":10,"opacity":1},"encoding":{"x":{"field":"g","type":"nominal"},"y":{"field":"md","type":"quantitative"},"color":{"field":"g","type":"nominal","legend":null}}}]},
{"data":{"name":"pts"},"transform":[{"filter":"datum.p=='D_2'"}],"layer":[
{"mark":{"type":"circle","size":190,"opacity":1},"encoding":{"x":{"field":"g","type":"nominal"},"y":{"field":"v","type":"quantitative"},"color":{"field":"g","type":"nominal","legend":null}}},
{"mark":{"type":"line","color":"#808080","strokeWidth":3.6},"encoding":{"x":{"field":"g","type":"nominal"},"y":{"field":"v","type":"quantitative"},"detail":{"field":"id","type":"nominal"}}}]},
{"data":{"name":"lab"},"transform":[{"filter":"datum.p=='D_2'"}],"mark":{"type":"text","align":"left","baseline":"alphabetic","fontSize":53,"dx":5.7},"encoding":{"x":{"datum":"C","type":"nominal"},"y":{"datum":68.37,"type":"quantitative"},"text":{"field":"t","type":"nominal"}}}
]},
{"width":24.6,"height":1,"view":{"stroke":null},"data":{"values":[]},"mark":"point"},
{"width":423.9,"height":1228.7,"layer":[
{"data":{"name":"box"},"transform":[{"filter":"datum.p=='D_3'"}],"layer":[
{"mark":{"type":"rule","strokeWidth":4.2},"encoding":{"x":{"field":"g","type":"nominal","scale":{"type":"point","padding":0.6,"domain":["C","E"]},"axis":{"labels":false,"title":null,"ticks":true,"grid":true}},"y":{"field":"lo","type":"quantitative","scale":{"domain":[-2.42,73.88],"nice":false,"zero":false},"axis":{"values":[0,20,40,60],"labels":false,"ticks":false,"title":null}},"y2":{"field":"q1"},"color":{"field":"g","type":"nominal","scale":{"domain":["C","E"],"range":["#0000ff","#ff0000"]},"legend":null}}},
{"mark":{"type":"rule","strokeWidth":4.2},"encoding":{"x":{"field":"g","type":"nominal"},"y":{"field":"q3","type":"quantitative"},"y2":{"field":"hi"},"color":{"field":"g","type":"nominal","legend":null}}},
{"mark":{"type":"bar","width":144.5,"fill":"white","strokeWidth":4.2},"encoding":{"x":{"field":"g","type":"nominal"},"y":{"field":"q1","type":"quantitative"},"y2":{"field":"q3"},"stroke":{"field":"g","type":"nominal","scale":{"domain":["C","E"],"range":["#0000ff","#ff0000"]},"legend":{"title":null,"orient":"none","legendX":51.5,"legendY":466,"labelOffset":33,"labelExpr":"datum.label=='C'?'Control':['Original-','expanded','lineage']"}}}},
{"mark":{"type":"tick","size":144.5,"thickness":10,"opacity":1},"encoding":{"x":{"field":"g","type":"nominal"},"y":{"field":"md","type":"quantitative"},"color":{"field":"g","type":"nominal","legend":null}}}]},
{"data":{"name":"pts"},"transform":[{"filter":"datum.p=='D_3'"}],"layer":[
{"mark":{"type":"circle","size":190,"opacity":1},"encoding":{"x":{"field":"g","type":"nominal"},"y":{"field":"v","type":"quantitative"},"color":{"field":"g","type":"nominal","legend":null}}},
{"mark":{"type":"line","color":"#808080","strokeWidth":3.6},"encoding":{"x":{"field":"g","type":"nominal"},"y":{"field":"v","type":"quantitative"},"detail":{"field":"id","type":"nominal"}}}]},
{"data":{"name":"lab"},"transform":[{"filter":"datum.p=='D_3'"}],"mark":{"type":"text","align":"left","baseline":"alphabetic","fontSize":53,"dx":-10.7},"encoding":{"x":{"datum":"C","type":"nominal"},"y":{"datum":68.37,"type":"quantitative"},"text":{"field":"t","type":"nominal"}}}
]}
]}
]}
],
"config":{
"font":"Liberation Sans",
"view":{"stroke":"black","strokeWidth":2.2},
"axis":{"grid":true,"gridColor":"#EBEBEB","gridWidth":1.2,"domain":false,"tickColor":"#333333","tickWidth":2.2,"tickSize":14.5,"labelFontSize":51,"labelColor":"black","labelPadding":7,"titleFontSize":57.5,"titleFontWeight":"normal","titleColor":"black","labelFlush":false,"labelOverlap":false,"titleBaseline":"bottom"},
"legend":{"direction":"vertical","symbolType":"M-1,-1.157H1V-0.088H-1Z","symbolSize":3721,"symbolStrokeWidth":3.5,"symbolFillColor":"white","labelFontSize":53,"labelColor":"black","labelBaseline":"alphabetic","labelLimit":3000,"padding":0,"rowPadding":44},
"text":{"color":"black"},
"title":{"fontSize":59,"fontWeight":"bold","anchor":"start","frame":"group","baseline":"alphabetic","color":"black"}
}
}
